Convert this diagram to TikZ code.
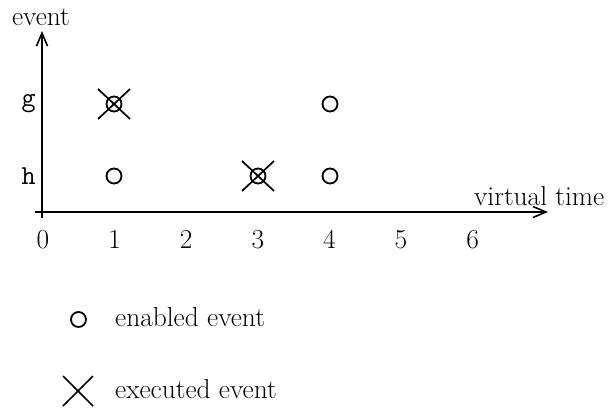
\documentclass[tikz,border=0pt]{standalone}
\usetikzlibrary{arrows.meta,calc}
\begin{document}
\begin{tikzpicture}[x=1bp,y=-1bp,
  axis/.style={line width=2.6bp,-{Straight Barb[length=13bp,width=11bp,line width=1.6bp]}},
  lbl/.style={font=\fontsize{27.5}{33}\selectfont,inner sep=0pt},
  tlbl/.style={font=\fontsize{27.5}{33}\selectfont\ttfamily,inner sep=0pt},
  enabled/.style={circle,draw,line width=1.8bp,minimum size=15bp,inner sep=0pt},
  xmark/.style={line width=1.7bp}]
  \useasboundingbox (0,0) rectangle (616,417);
  % axes
  \coordinate (ybot) at (42,218);
  \coordinate (ytop) at (42,31);
  \coordinate (xleft) at (35,212);
  \coordinate (xright) at (548,212);
  \draw[axis] (ybot) -- (ytop);
  \draw[axis] (xleft) -- (xright);
  \node[lbl,anchor=base] (ylab) at (41,25) {event};
  \node[lbl,anchor=base west] (xlab) at (474,205) {virtual time};
  % tick labels along the time axis
  \foreach \i in {0,...,6}
    \node[lbl,anchor=base] (t\i) at ({43+71.6*\i},248) {\i};
  % event rows
  \node[tlbl,anchor=east] (g) at (36,104) {g};
  \node[tlbl,anchor=east] (h) at (36,176) {h};
  % enabled events
  \node[enabled] (g1) at (114,104) {};
  \node[enabled] (h1) at (114,176) {};
  \node[enabled] (h3) at (258,176) {};
  \node[enabled] (g4) at (330,104) {};
  \node[enabled] (h4) at (330,176) {};
  % executed events
  \foreach \c in {g1,h3} {
    \draw[xmark] ($(\c)+(-16,-15)$) -- ($(\c)+(16,15)$);
    \draw[xmark] ($(\c)+(-16,15)$) -- ($(\c)+(16,-15)$);
  }
  % legend
  \node[enabled] (le) at (78.5,319.5) {};
  \node[lbl,anchor=base west] (let) at (115,326) {enabled event};
  \coordinate (lx) at (78,391);
  \draw[xmark] ($(lx)+(-15,-15)$) -- ($(lx)+(15,15)$);
  \draw[xmark] ($(lx)+(-15,15)$) -- ($(lx)+(15,-15)$);
  \node[lbl,anchor=base west] (lxt) at (115,398) {executed event};
\end{tikzpicture}
\end{document}
